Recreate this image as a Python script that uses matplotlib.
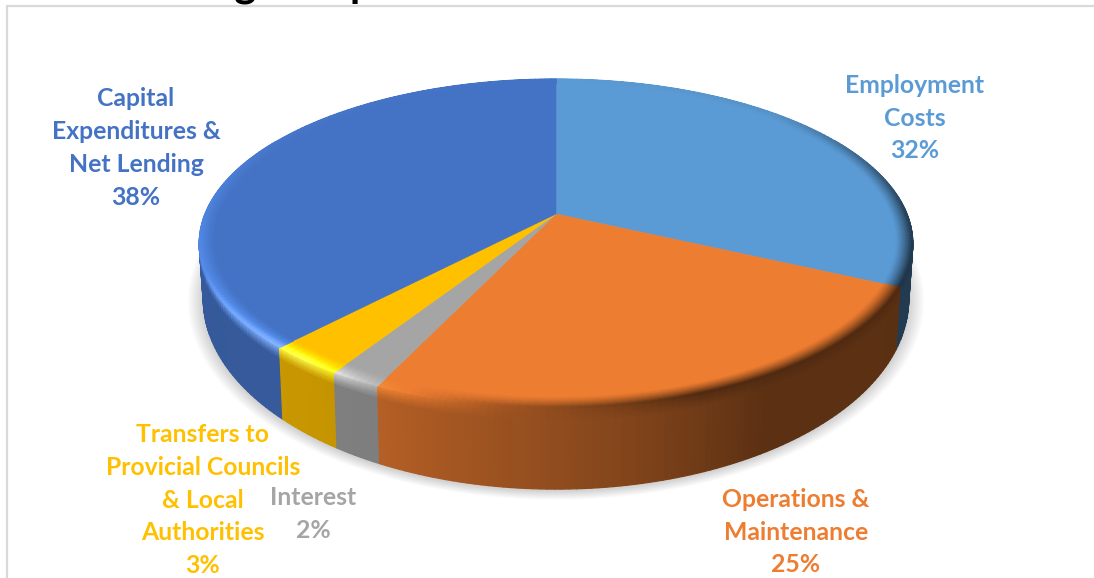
import numpy as np
import matplotlib
matplotlib.use("Agg")
import matplotlib.pyplot as plt
from matplotlib.collections import PolyCollection
from matplotlib.colors import to_rgb

# Budget shares, clockwise from twelve o'clock
categories = ["Employment\nCosts", "Operations &\nMaintenance", "Interest",
              "Transfers to\nProvicial Councils\n& Local\nAuthorities",
              "Capital\nExpenditures &\nNet Lending"]
shares = [32, 25, 2, 3, 38]
colors = ["#5B9BD5", "#ED7D31", "#A5A5A5", "#FFC000", "#4472C4"]
label_anchor_x = [915, 796, 313, 203, 136]
label_anchor_y = [118, 532, 514, 500, 148]
title_text = "Budget Expenditure"

plt.rcParams["font.family"] = ["Lato", "DejaVu Sans"]

CX = 556
K = 0.179
TOP = dict(a=351, s=159.2, y0=214)
BOTTOM = dict(a=347, s=184, y0=265)


def project(theta_deg, r, plane):
    """Perspective view of a disc point; theta runs clockwise from the far side."""
    th = np.radians(theta_deg)
    den = 1 + K * r * np.cos(th)
    x = CX + plane["a"] * r * np.sin(th) / den
    y = plane["y0"] - plane["s"] * r * np.cos(th) / den
    return x, y


def shade(base, light):
    c = np.array(to_rgb(base))
    if light >= 0:
        # Highlights keep the hue: lift towards a brightened copy of the colour
        bright = np.clip(c * 1.35, 0, 1)
        return tuple(c + (bright - c) * min(light * 3, 1) + (1 - bright) * max(light - .2, 0))
    return tuple(c * (1 + light))


def rim_light(theta):
    return np.interp(theta,
                     [0, 45, 90, 115, 160, 188, 205, 218, 250, 300, 360],
                     [0, -.06, -.58, -.66, -.66, -.3, .1, .5, .22, .04, 0])


def wall_factor(theta):
    return np.interp(theta,
                     [60, 115, 150, 172, 205, 225, 270, 300],
                     [.38, .38, .39, .56, .76, .79, .78, .78])


fig = plt.figure(figsize=(10.94, 5.78), dpi=100)
ax = fig.add_axes([0, 0, 1, 1])
ax.set_xlim(0, 1094)
ax.set_ylim(578, 0)
ax.axis("off")

# Chart frame
ax.plot([7, 7, 1094], [578, 6, 6], color="#D9D9D9", lw=1.6, zorder=1,
        solid_joinstyle="miter")

# Heading sits mostly beyond the upper edge of the canvas
ax.text(160, -4, title_text, fontsize=30, fontweight="bold", color="black",
        ha="left", va="baseline", zorder=1, clip_on=True)

# Soft ground shadow under the disc
angles = np.linspace(0, 360, 361)
bx, by = project(angles, 1.0, BOTTOM)
byc = by.mean()
for grow in range(1, 16):
    f = 1 + grow / 340
    ax.fill(CX + (bx - CX) * f, byc + (by - byc) * f + 1.5, color="black",
            alpha=0.012, lw=0, zorder=2)

edges = np.concatenate([[0], np.cumsum(shares)]) * 3.6
wall_rows = np.array([0, .02, .04, .06, .08, .1, .13, .16, .2, 1.0])
wall_polys, wall_cols, wall_keys = [], [], []
top_polys, top_cols = [], []
rim_polys, rim_cols = [], []
rim_radii = np.linspace(.955, 1.0, 13)

for start, stop, col in zip(edges[:-1], edges[1:], colors):
    n = max(int(stop - start), 2)
    th = np.linspace(start, stop, n + 1)

    # Flat upper face of the slice
    fx, fy = project(th, .96, TOP)
    ox, oy = project(0.0, 0.0, TOP)
    top_polys.append(np.column_stack([np.r_[ox, fx], np.r_[oy, fy]]))
    top_cols.append(col)

    for a, b in zip(th[:-1], th[1:]):
        mid = (a + b) / 2
        # Bevelled rim around the face
        for i, (r0, r1) in enumerate(zip(rim_radii[:-1], rim_radii[1:])):
            w = (i + 1) / (len(rim_radii) - 1)
            x0, y0 = project(a, r0, TOP)
            x1, y1 = project(b, r0, TOP)
            x2, y2 = project(b, r1, TOP)
            x3, y3 = project(a, r1, TOP)
            rim_polys.append([(x0, y0), (x1, y1), (x2, y2), (x3, y3)])
            rim_cols.append(shade(col, rim_light(mid) * w ** 1.3))

        # Outer wall, only on the side facing the viewer
        if 60 <= mid <= 300:
            ta = project(a, 1.0, TOP)
            tb = project(b, 1.0, TOP)
            ba = project(a, 1.0, BOTTOM)
            bb = project(b, 1.0, BOTTOM)
            for j, (t0, t1) in enumerate(zip(wall_rows[:-1], wall_rows[1:])):
                pa0 = (ta[0] + (ba[0] - ta[0]) * t0, ta[1] + (ba[1] - ta[1]) * t0)
                pb0 = (tb[0] + (bb[0] - tb[0]) * t0, tb[1] + (bb[1] - tb[1]) * t0)
                pb1 = (tb[0] + (bb[0] - tb[0]) * t1, tb[1] + (bb[1] - tb[1]) * t1)
                pa1 = (ta[0] + (ba[0] - ta[0]) * t1, ta[1] + (ba[1] - ta[1]) * t1)
                body = np.array(to_rgb(col)) * wall_factor(mid)
                edge = np.array(shade(col, rim_light(mid)))
                blend = max(0.0, 1 - t1 / .2) ** 1.2
                wall_polys.append([pa0, pb0, pb1, pa1])
                wall_cols.append(tuple(body * (1 - blend) + edge * blend))
                wall_keys.append(-abs(mid - 180))

order = np.argsort(wall_keys, kind="stable")
ax.add_collection(PolyCollection([wall_polys[i] for i in order],
                                 facecolors=[wall_cols[i] for i in order],
                                 edgecolors="face", linewidths=.9, zorder=3))
ax.add_collection(PolyCollection(top_polys, facecolors=top_cols,
                                 edgecolors="face", linewidths=.4, zorder=4))
ax.add_collection(PolyCollection(rim_polys, facecolors=rim_cols,
                                 edgecolors="face", linewidths=.8, zorder=5))

# Category names with their percentages
for name, share, col, lx, ly in zip(categories, shares, colors,
                                    label_anchor_x, label_anchor_y):
    ax.text(lx, ly, f"{name}\n{share}%", color=col, fontsize=17.8,
            fontweight="bold", ha="center", va="center", ma="center",
            linespacing=1.52, zorder=6)

fig.savefig("out.png", dpi=100)
